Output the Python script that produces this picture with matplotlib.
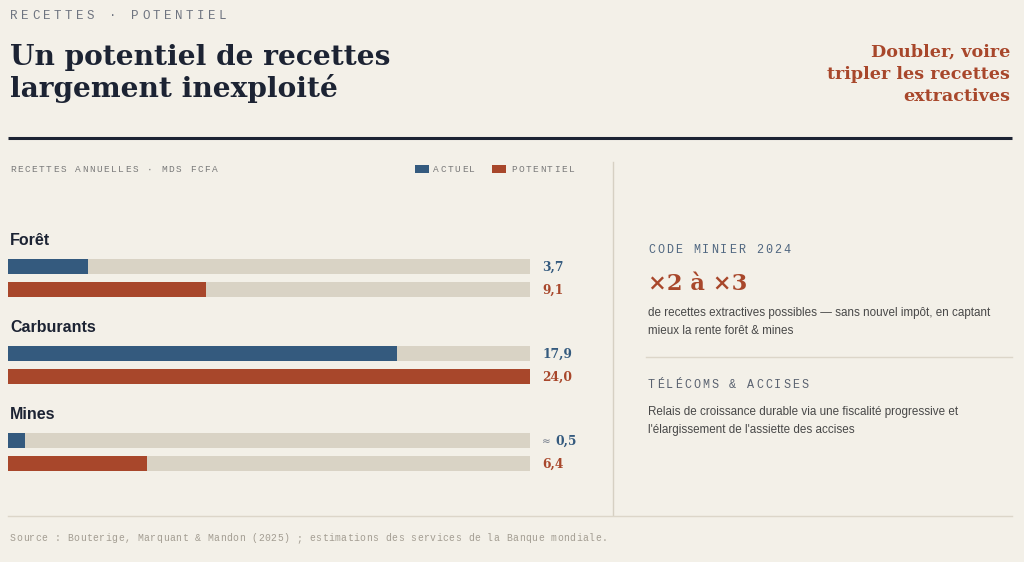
import matplotlib
matplotlib.use("Agg")
import matplotlib.pyplot as plt

# data
categories = ["Forêt", "Carburants", "Mines"]
actuel = [3.7, 17.9, 0.5]
potentiel = [9.1, 24.0, 6.4]
actuel_txt = ["3,7", "17,9", "0,5"]
actuel_approx = [False, False, True]
potentiel_txt = ["9,1", "24,0", "6,4"]
scale_max = 24.0

BG = "#f3f0e8"
BLUE = "#345a7e"
RED = "#a8472b"
TRACK = "#d9d3c5"
NAVY = "#1c2333"
MONO = "Liberation Mono"
SERIF = "DejaVu Serif"
SANS = "Liberation Sans"

fig = plt.figure(figsize=(10.24, 5.62), dpi=100, facecolor=BG)
ov = fig.add_axes([0, 0, 1, 1])
ov.set_xlim(0, 1024); ov.set_ylim(562, 0); ov.axis("off")
ov.set_facecolor(BG)


def spaced(x, y, s, pitch, size, color, **kw):
    """letter-spaced monospace text, one char at a time"""
    for i, ch in enumerate(s):
        ov.text(x + i * pitch, y, ch, family=MONO, fontsize=size, color=color,
                ha="left", va="center", **kw)


# header
spaced(10, 16, "RECETTES · POTENTIEL", 11.0, 9, "#6e7480")
ov.text(10, 65, "Un potentiel de recettes", family=SERIF, weight="bold", fontsize=20.2,
        color=NAVY, va="baseline")
ov.text(10, 97, "largement inexploité", family=SERIF, weight="bold", fontsize=20.2,
        color=NAVY, va="baseline")
for i, line in enumerate(["Doubler, voire", "tripler les recettes", "extractives"]):
    ov.text(1010, 57 + i * 22, line, family=SERIF, weight="bold", fontsize=12.6,
            color=RED, ha="right", va="baseline")
ov.plot([8, 1012], [138, 138], color=NAVY, lw=2.2, solid_capstyle="butt")

# chart sub-header + legend
spaced(10, 169.5, "RECETTES ANNUELLES · MDS FCFA", 7.2, 6.8, "#7a7a7a")
ov.add_patch(plt.Rectangle((415, 165), 14, 8, color=BLUE, lw=0))
spaced(433, 169.5, "ACTUEL", 7.2, 6.8, "#7a7a7a")
ov.add_patch(plt.Rectangle((492, 165), 14, 8, color=RED, lw=0))
spaced(511, 169.5, "POTENTIEL", 7.2, 6.8, "#7a7a7a")

# bars
ax = fig.add_axes([8 / 1024, 1 - 480 / 562, 522 / 1024, 250 / 562])
ax.set_xlim(0, scale_max); ax.set_ylim(480, 230); ax.axis("off")
ax.patch.set_alpha(0)
MIN_W = 0.8  # minimum visible bar width
for i, cat in enumerate(categories):
    y0 = 266.5 + i * 87
    ov.text(10, y0 - 26, cat, family=SANS, weight="bold", fontsize=11.5, color=NAVY,
            va="center")
    for y, v, col in [(y0, actuel[i], BLUE), (y0 + 23, potentiel[i], RED)]:
        ax.barh(y, scale_max, height=15, color=TRACK, lw=0)
        ax.barh(y, max(v, MIN_W), height=15, color=col, lw=0)
    if actuel_approx[i]:
        ov.text(542, y0 + 1, "≈", family="DejaVu Sans", fontsize=7.5, color="#6b7585",
                va="center")
        ov.text(555, y0 + 1, actuel_txt[i], family=SERIF, weight="bold", fontsize=8.8,
                color=BLUE, va="center")
    else:
        ov.text(542, y0 + 1, actuel_txt[i], family=SERIF, weight="bold", fontsize=8.8,
                color=BLUE, va="center")
    ov.text(542, y0 + 24, potentiel_txt[i], family=SERIF, weight="bold", fontsize=8.8,
            color=RED, va="center")

# divider
ov.plot([613, 613], [162, 515], color="#d6d0c3", lw=1)

# right panel
spaced(648, 250, "CODE MINIER 2024", 9.0, 8.5, "#4f6680")
ov.text(648, 290, "×2 à ×3", family=SERIF, weight="bold", fontsize=16.2, color=RED,
        va="baseline")
ov.text(648, 313, "de recettes extractives possibles — sans nouvel impôt, en captant",
        family=SANS, fontsize=8.4, color="#484848", va="center")
ov.text(648, 331, "mieux la rente forêt & mines", family=SANS, fontsize=8.4,
        color="#484848", va="center")
ov.plot([646, 1012], [357, 357], color="#dcd6c9", lw=1)
spaced(648, 385, "TÉLÉCOMS & ACCISES", 9.0, 8.5, "#5a6270")
ov.text(648, 412, "Relais de croissance durable via une fiscalité progressive et",
        family=SANS, fontsize=8.4, color="#484848", va="center")
ov.text(648, 430, "l'élargissement de l'assiette des accises", family=SANS, fontsize=8.4,
        color="#484848", va="center")

# footer
ov.plot([8, 1012], [516, 516], color="#dcd6c9", lw=1)
spaced(10, 538, "Source : Bouterige, Marquant & Mandon (2025) ; estimations des services de la Banque mondiale.",
       6.36, 7.0, "#a39d92")

fig.savefig("out.png", dpi=100, facecolor=BG)
